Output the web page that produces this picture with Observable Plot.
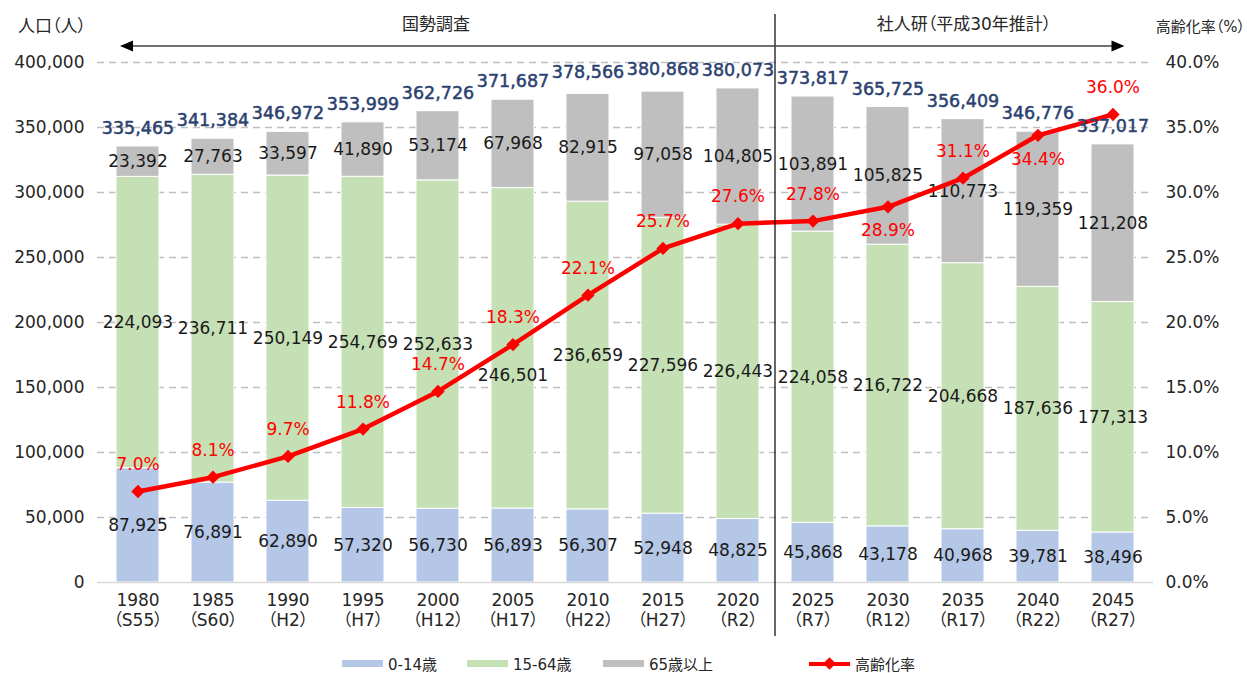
<!DOCTYPE html>
<html><head><meta charset="utf-8">
<script src="https://cdn.jsdelivr.net/npm/d3@7"></script>
<script src="https://cdn.jsdelivr.net/npm/@observablehq/plot@0.6"></script>
<style>
body{margin:0;background:#fff;}
#chart svg{font-feature-settings:"palt";}
.legend{position:relative;height:25px;font-family:"DejaVu Sans","Noto Sans CJK JP",sans-serif;font-size:15px;color:#262626;font-feature-settings:"palt";}
.legend .item{position:absolute;top:3px;display:flex;align-items:center;height:25px;}
.legend .sw{display:inline-block;width:41px;height:7px;margin-right:5px;position:relative;}
.legend .dia{position:absolute;left:16px;top:-3px;width:9px;height:9px;background:#ff0000;transform:rotate(45deg);}
</style></head>
<body><div id="chart"></div><div class="legend" id="legend"></div>
<script>
// ---- data ----
const years = ["1980","1985","1990","1995","2000","2005","2010","2015","2020","2025","2030","2035","2040","2045"];
const eras = ["（S55）","（S60）","（H2）","（H7）","（H12）","（H17）","（H22）","（H27）","（R2）","（R7）","（R12）","（R17）","（R22）","（R27）"];
const groups = ["0-14歳","15-64歳","65歳以上"];
const age0to14 = [87925,76891,62890,57320,56730,56893,56307,52948,48825,45868,43178,40968,39781,38496];
const age15to64 = [224093,236711,250149,254769,252633,246501,236659,227596,226443,224058,216722,204668,187636,177313];
const age65plus = [23392,27763,33597,41890,53174,67968,82915,97058,104805,103891,105825,110773,119359,121208];
const totals = [335465,341384,346972,353999,362726,371687,378566,380868,380073,373817,365725,356409,346776,337017];
const agingRate = [7.0,8.1,9.7,11.8,14.7,18.3,22.1,25.7,27.6,27.8,28.9,31.1,34.4,36.0];
const rateName = "高齢化率";
const yTicks = [0,50000,100000,150000,200000,250000,300000,350000,400000];
const censusLabel = "国勢調査";
const projLabel = "社人研（平成30年推計）";
const leftTitle = "人口（人）";
const rightTitle = "高齢化率（%）";
const firstProjectionYear = "2025";

// ---- style / layout config ----
const colors = ["#b4c7e7","#c5e0b4","#bfbfbf"];
const rateBelow = new Set(["2030","2040"]);
const nudged = new Set(["2005|15-64歳"]);
const FONT = '"DejaVu Sans","Noto Sans CJK JP",sans-serif';
const W = 1247, H = 648;

// ---- build tables ----
const series = [age0to14, age15to64, age65plus];
const rows = [];
years.forEach((yr, i) => {
  let base = 0;
  series.forEach((arr, k) => {
    rows.push({year: yr, group: groups[k], value: arr[i], mid: base + arr[i] / 2, nudge: nudged.has(yr + "|" + groups[k])});
    base += arr[i];
  });
});
const rateRows = years.map((yr, i) => ({year: yr, rate: agingRate[i], yv: agingRate[i] * 10000, below: rateBelow.has(yr)}));
const totalRows = years.map((yr, i) => ({year: yr, total: totals[i]}));
const fmt = d3.format(",");

const chart = Plot.plot({
  width: W, height: H,
  marginTop: 62, marginBottom: H - 582, marginLeft: 97, marginRight: W - 1153,
  style: {fontFamily: FONT, fontSize: "17px", color: "#262626", background: "#fff"},
  x: {domain: years, paddingInner: 0.43, paddingOuter: 0.22, axis: null},
  y: {domain: [0, 400000], axis: null},
  color: {domain: groups, range: colors},
  marks: [
    Plot.gridY(yTicks.slice(1), {stroke: "#bfbfbf", strokeOpacity: 1, strokeDasharray: "7,5", strokeWidth: 1.4}),
    Plot.barY(rows, {x: "year", y: "value", fill: "group", order: groups, stroke: "#fff", strokeWidth: 1}),
    Plot.ruleY([0], {stroke: "#d9d9d9", strokeWidth: 1.5}),
    Plot.axisX({label: null, tickSize: 0, tickPadding: 9, lineHeight: 1.2, fill: "#262626", tickFormat: d => d + "\n" + eras[years.indexOf(d)]}),
    Plot.axisY({anchor: "left", label: null, ticks: yTicks, tickSize: 0, tickPadding: 13, fill: "#262626", tickFormat: fmt}),
    Plot.axisY({anchor: "right", label: null, ticks: yTicks, tickSize: 0, tickPadding: 12, fill: "#262626", tickFormat: d => (d / 10000).toFixed(1) + "%"}),
    Plot.text(rows.filter(d => !d.nudge), {x: "year", y: "mid", text: d => fmt(d.value), fill: "#1a1a1a"}),
    Plot.text(rows.filter(d => d.nudge), {x: "year", y: "mid", text: d => fmt(d.value), fill: "#1a1a1a", dy: 27}),
    Plot.line(rateRows, {x: "year", y: "yv", stroke: "#ff0000", strokeWidth: 4.5}),
    Plot.dot(rateRows, {x: "year", y: "yv", symbol: "diamond2", r: 6, fill: "#ff0000"}),
    Plot.text(rateRows.filter(d => !d.below), {x: "year", y: "yv", text: d => d.rate.toFixed(1) + "%", fill: "#ff0000", dy: -27}),
    Plot.text(rateRows.filter(d => d.below), {x: "year", y: "yv", text: d => d.rate.toFixed(1) + "%", fill: "#ff0000", dy: 24}),
    Plot.text(totalRows, {x: "year", y: "total", text: d => fmt(d.total), fill: "#2b4170", stroke: "#2b4170", strokeWidth: 0.5, fontSize: 17.5, dy: -18})
  ]
});
document.getElementById("chart").appendChild(chart);

// ---- annotations derived from scales ----
const xs = chart.scale("x");
const bw = xs.bandwidth;
const xc = y => xs.apply(y) + bw / 2;
const prevYear = years[years.indexOf(firstProjectionYear) - 1];
const xDiv = (xc(prevYear) + xc(firstProjectionYear)) / 2;
const fx0 = xs.range[0], fx1 = xs.range[1];
const svg = d3.select(chart);
const g = svg.append("g");
g.append("line").attr("x1", xDiv).attr("x2", xDiv).attr("y1", 14).attr("y2", 636).attr("stroke", "#000").attr("stroke-width", 1.2);
const ay = 46;
const ax0 = xs.apply(years[0]) + 4, ax1 = xc(years[years.length - 1]) + 12;
g.append("line").attr("x1", ax0 + 10).attr("x2", ax1 - 10).attr("y1", ay).attr("y2", ay).attr("stroke", "#404040").attr("stroke-width", 1.5);
g.append("path").attr("d", `M${ax0},${ay}L${ax0 + 13},${ay - 5.5}L${ax0 + 13},${ay + 5.5}Z`).attr("fill", "#000");
g.append("path").attr("d", `M${ax1},${ay}L${ax1 - 13},${ay - 5.5}L${ax1 - 13},${ay + 5.5}Z`).attr("fill", "#000");
const txt = (x, y, s, anchor, size) => g.append("text").attr("x", x).attr("y", y).attr("text-anchor", anchor)
  .attr("dominant-baseline", "middle").attr("font-size", size).attr("fill", "#262626").attr("font-family", FONT).text(s);
txt((fx0 + xDiv) / 2, 25, censusLabel, "middle", 17);
txt((xDiv + fx1) / 2, 25, projLabel, "middle", 17);
txt(18, 27, leftTitle, "start", 17);
txt(W - 2, 27, rightTitle, "end", 15);

// ---- legend ----
const leg = document.getElementById("legend");
const legendLefts = [342, 467, 603, 809];
groups.forEach((name, k) => {
  const it = document.createElement("div");
  it.className = "item"; it.style.left = legendLefts[k] + "px";
  it.innerHTML = `<span class="sw" style="background:${colors[k]}"></span><span>${name}</span>`;
  leg.appendChild(it);
});
const it = document.createElement("div");
it.className = "item"; it.style.left = legendLefts[3] + "px";
it.innerHTML = `<span class="sw" style="background:#ff0000;height:4px;"><span class="dia"></span></span><span>${rateName}</span>`;
leg.appendChild(it);
</script>
</body></html>
